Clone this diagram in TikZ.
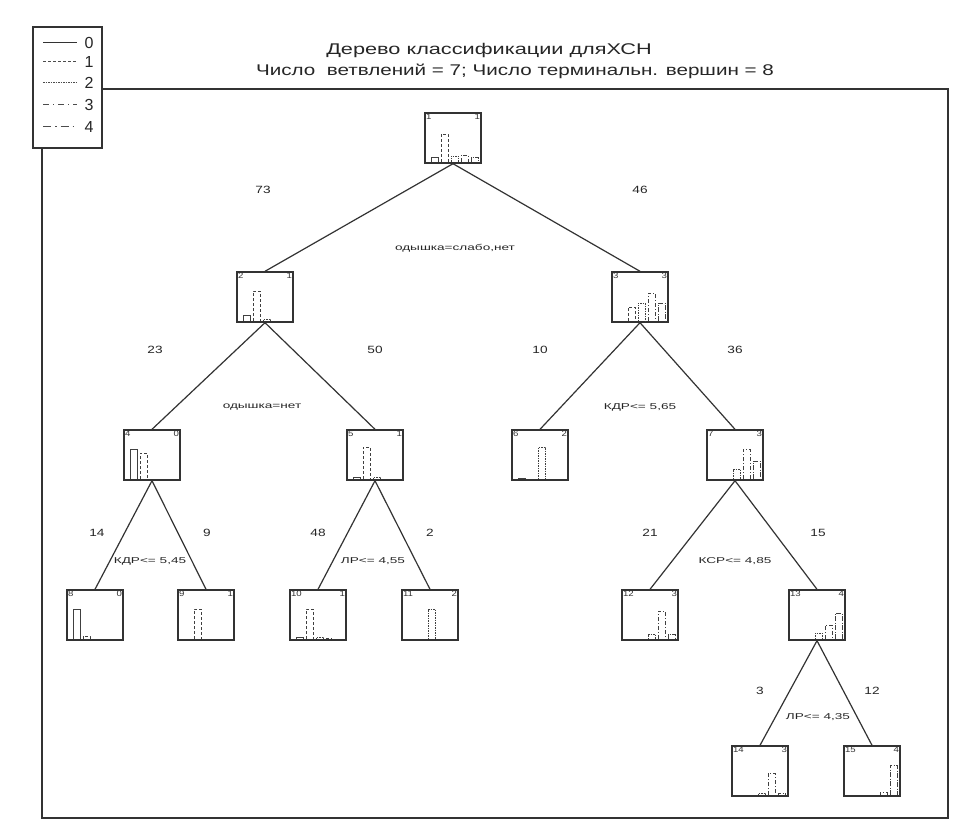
\documentclass[tikz,border=0pt]{standalone}
\usepackage{fontspec}
\usepackage{graphicx}
\setmainfont{Liberation Sans}
\newcommand{\treenode}[6]{%
  \node[tbox] (#1) at (#2,#3) {};
  \node[idlab,anchor=north west] at (#1.north west) {\scalebox{1.2}[1]{#4}};
  \node[idlab,anchor=north east] at (#1.north east) {\scalebox{1.2}[1]{#5}};
  \foreach \hh [count=\ii from 0] in {#6} {%
    \ifnum\hh>0
      \ifcase\ii \tikzset{barcur/.style={solid}}%
      \or \tikzset{barcur/.style={dash pattern=on 3pt off 2pt}}%
      \or \tikzset{barcur/.style={dash pattern=on 1.5pt off 1pt}}%
      \or \tikzset{barcur/.style={dash pattern=on 4pt off 2pt on 1pt off 2pt}}%
      \or \tikzset{barcur/.style={dash pattern=on 5pt off 1.5pt on 1pt off 1.5pt}}%
      \fi
      \draw[barcur, draw=black!75, line width=0.9pt] (#2-22+10*\ii,#3+24) -- ++(0,-\hh) -- ++(7,0) -- ++(0,\hh);
    \fi
  }%
}
\newcommand{\wide}[2]{\scalebox{#1}[1]{#2}}
\begin{document}
\begin{tikzpicture}[x=1pt,y=-1pt,
  ink/.style={draw=black!80, line width=1.3pt},
  tbox/.style={draw=black!80, line width=1.4pt, minimum width=56pt, minimum height=50pt, inner sep=0pt, fill=white},
  idlab/.style={font=\fontsize{8}{8}\selectfont, inner sep=1.5pt, text=black!80},
  cnt/.style={font=\fontsize{10.5}{10.5}\selectfont, text=black!85, inner sep=0pt},
  cond/.style={font=\fontsize{8.5}{8.5}\selectfont, text=black!85, inner sep=0pt},
  legtxt/.style={font=\fontsize{16}{16}\selectfont, text=black!85, inner sep=0pt},
  ttl/.style={font=\fontsize{15.5}{15.5}\selectfont, text=black!85, inner sep=0pt},
  edge/.style={draw=black!80, line width=1.2pt},
  leg0/.style={draw=black!80, line width=1pt, solid},
  leg1/.style={draw=black!70, line width=1pt, dash pattern=on 3pt off 2pt},
  leg2/.style={draw=black!70, line width=1pt, dash pattern=on 1.5pt off 1pt},
  leg3/.style={draw=black!70, line width=1pt, dash pattern=on 6pt off 4pt on 1pt off 4pt},
  leg4/.style={draw=black!70, line width=1pt, dash pattern=on 8pt off 4pt on 1.5pt off 4pt},
]
\useasboundingbox[fill=white] (0,0) rectangle (973,826);

% legend
\draw[ink] (33,27) rectangle (102,148);
\draw[leg0] (43,43) -- (77,43); \node[legtxt] (l0) at (89,43) {0};
\draw[leg1] (43,62) -- (77,62); \node[legtxt] (l1) at (89,62) {1};
\draw[leg2] (43,83) -- (77,83); \node[legtxt] (l2) at (89,83) {2};
\draw[leg3] (43,105) -- (77,105); \node[legtxt] (l3) at (89,105) {3};
\draw[leg4] (43,127) -- (77,127); \node[legtxt] (l4) at (89,127) {4};

% frame
\draw[ink] (102,89) -- (948,89) -- (948,818) -- (42,818) -- (42,148);

% title
\node[ttl] (t1) at (489,50) {\wide{1.4}{Дерево классификации дляХСН}};
\node[ttl] (t2) at (515,71) {\wide{1.33}{Число \ ветвлений = 7; Число терминальн. вершин = 8}};

% nodes
\treenode{n1}{453}{138}{1}{1}{5,28,6,7,5}
\treenode{n2}{265}{297}{2}{1}{6,30,2,0,0}
\treenode{n3}{640}{297}{3}{3}{0,14,18,28,18}
\treenode{n4}{152}{455}{4}{0}{30,26,0,0,0}
\treenode{n5}{375}{455}{5}{1}{2,32,2,0,0}
\treenode{n6}{540}{455}{6}{2}{1,0,32,0,0}
\treenode{n7}{735}{455}{7}{3}{0,0,10,30,18}
\treenode{n8}{95}{615}{8}{0}{30,3,0,0,0}
\treenode{n9}{206}{615}{9}{1}{0,30,0,0,0}
\treenode{n10}{318}{615}{10}{1}{2,30,2,1,0}
\treenode{n11}{430}{615}{11}{2}{0,0,30,0,0}
\treenode{n12}{650}{615}{12}{3}{0,0,5,28,5}
\treenode{n13}{817}{615}{13}{4}{0,0,6,14,26}
\treenode{n14}{760}{771}{14}{3}{0,0,2,22,2}
\treenode{n15}{872}{771}{15}{4}{0,0,0,3,30}

% edges
\draw[edge] (n1.south) -- (n2.north);
\draw[edge] (n1.south) -- (n3.north);
\draw[edge] (n2.south) -- (n4.north);
\draw[edge] (n2.south) -- (n5.north);
\draw[edge] (n3.south) -- (n6.north);
\draw[edge] (n3.south) -- (n7.north);
\draw[edge] (n4.south) -- (n8.north);
\draw[edge] (n4.south) -- (n9.north);
\draw[edge] (n5.south) -- (n10.north);
\draw[edge] (n5.south) -- (n11.north);
\draw[edge] (n7.south) -- (n12.north);
\draw[edge] (n7.south) -- (n13.north);
\draw[edge] (n13.south) -- (n14.north);
\draw[edge] (n13.south) -- (n15.north);

% counts
\node[cnt] (c2) at (263,190) {\wide{1.3}{73}};
\node[cnt] (c3) at (640,190) {\wide{1.3}{46}};
\node[cnt] (c4) at (155,350) {\wide{1.3}{23}};
\node[cnt] (c5) at (375,350) {\wide{1.3}{50}};
\node[cnt] (c6) at (540,350) {\wide{1.3}{10}};
\node[cnt] (c7) at (735,350) {\wide{1.3}{36}};
\node[cnt] (c8) at (97,533) {\wide{1.3}{14}};
\node[cnt] (c9) at (207,533) {\wide{1.3}{9}};
\node[cnt] (c10) at (318,533) {\wide{1.3}{48}};
\node[cnt] (c11) at (430,533) {\wide{1.3}{2}};
\node[cnt] (c12) at (650,533) {\wide{1.3}{21}};
\node[cnt] (c13) at (818,533) {\wide{1.3}{15}};
\node[cnt] (c14) at (760,691) {\wide{1.3}{3}};
\node[cnt] (c15) at (872,691) {\wide{1.3}{12}};

% conditions
\node[cond] (s1) at (455,248) {\wide{1.6}{одышка=слабо,нет}};
\node[cond] (s2) at (262,407) {\wide{1.6}{одышка=нет}};
\node[cond] (s3) at (640,407) {\wide{1.6}{КДР<= 5,65}};
\node[cond] (s4) at (150,561) {\wide{1.6}{КДР<= 5,45}};
\node[cond] (s5) at (373,561) {\wide{1.6}{ЛР<= 4,55}};
\node[cond] (s7) at (735,561) {\wide{1.6}{КСР<= 4,85}};
\node[cond] (s13) at (818,717) {\wide{1.6}{ЛР<= 4,35}};
\end{tikzpicture}
\end{document}
